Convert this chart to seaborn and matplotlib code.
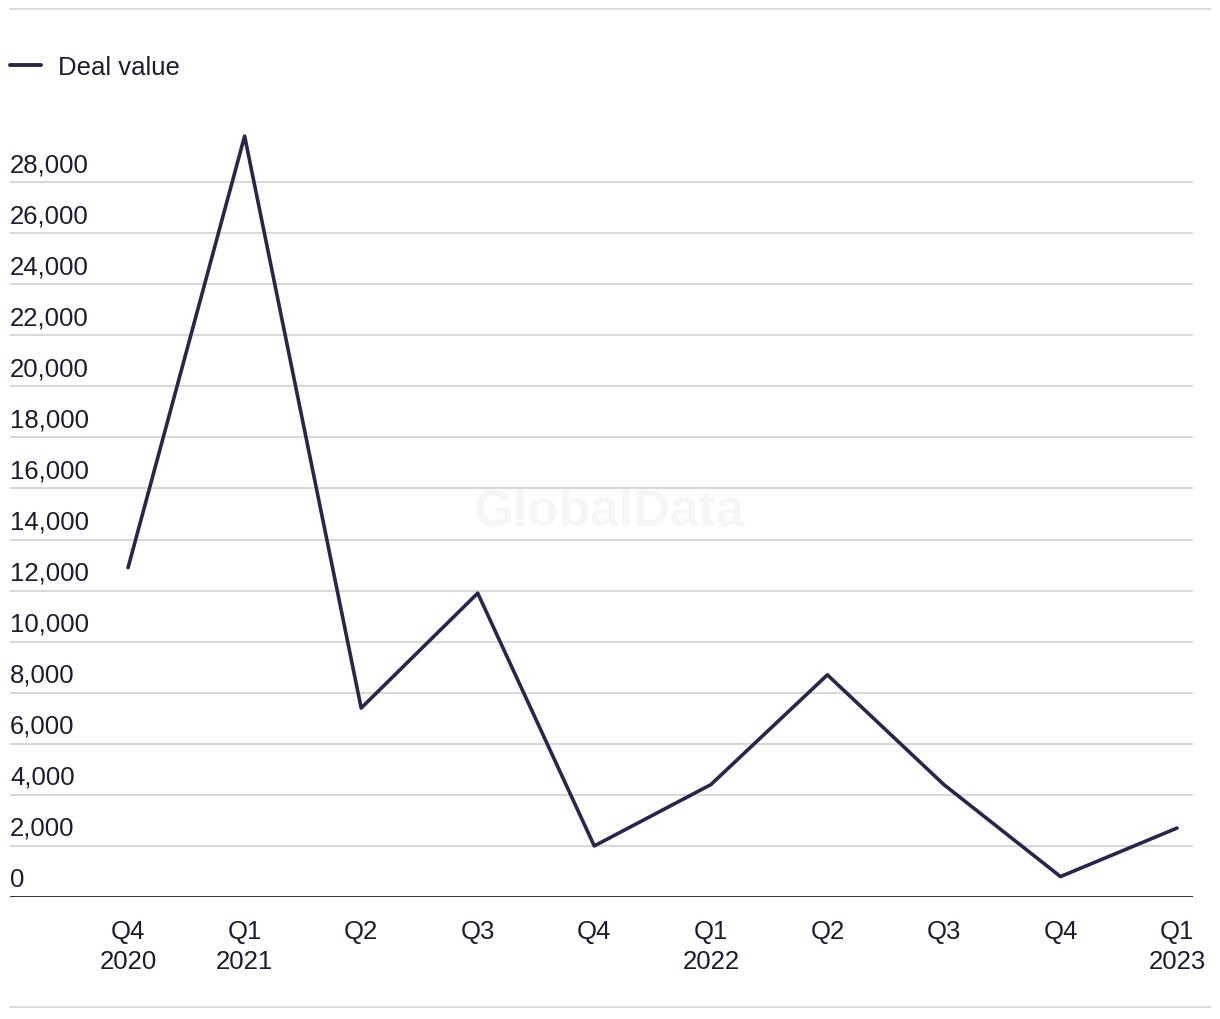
import matplotlib
matplotlib.use("Agg")
import matplotlib.pyplot as plt
import matplotlib.transforms as mtransforms
from matplotlib.lines import Line2D
import seaborn as sns
import pandas as pd

quarters = ["Q4\n2020", "Q1\n2021", "Q2", "Q3", "Q4", "Q1\n2022", "Q2", "Q3", "Q4", "Q1\n2023"]
deal_value = [12900, 29800, 7400, 11900, 2000, 4400, 8700, 4400, 800, 2700]
y_ticks = list(range(0, 28001, 2000))
series_name = "Deal value"

sns.set_theme(style="white")
plt.rcParams['font.family'] = ['Liberation Sans', 'DejaVu Sans']

LINE = "#28274b"
GRID = "#d9d9d9"
TEXT = "#1c1c2e"

df = pd.DataFrame({"pos": range(len(quarters)), "value": deal_value})

W, H = 1220, 1020
fig = plt.figure(figsize=(W / 100, H / 100), dpi=100)
ax = fig.add_axes([10 / W, 1 - 898 / H, (1193 - 10) / W, (898 - 132) / H])

for t in y_ticks[1:]:
    ax.axhline(t, color=GRID, lw=1.5, zorder=1)
ax.axhline(0, color=TEXT, lw=2.0, zorder=2)

sns.lineplot(data=df, x="pos", y="value", ax=ax, color=LINE, lw=2.6, zorder=3, legend=False)

ax.set_xlim(-1.013, 9.137)
ax.set_ylim(0, 30000)
for s in ax.spines.values():
    s.set_visible(False)
ax.set_xticks(range(len(quarters)))
ax.set_xticklabels(quarters, fontsize=18.5, color=TEXT, linespacing=1.3)
ax.tick_params(axis="x", length=0, pad=16)
ax.set_yticks([])
ax.set_xlabel("")
ax.set_ylabel("")

trans = mtransforms.blended_transform_factory(ax.transAxes, ax.transData)
offset = mtransforms.offset_copy(trans, fig=fig, x=0, y=6, units="dots")
for t in y_ticks:
    ax.text(0, t, f"{t:,}", transform=offset, ha="left", va="bottom",
            fontsize=18.5, color=TEXT)

# watermark
ax.text(0.5, 1 - 512 / H, "GlobalData", transform=fig.transFigure, ha="center", va="center",
        fontsize=37, fontweight="bold", color="#f6f6f6", zorder=0)

# legend
handle = Line2D([0], [0], color=LINE, lw=2.8)
leg = fig.legend([handle], [series_name], loc="center left",
                 bbox_to_anchor=(10 / W, 1 - 68 / H), frameon=False,
                 fontsize=18.5, handlelength=1.2, handletextpad=0.65,
                 borderaxespad=0, borderpad=0)
for txt in leg.get_texts():
    txt.set_color(TEXT)

# top and bottom rules
fig.add_artist(Line2D([10 / W, 1210 / W], [1 - 10 / H, 1 - 10 / H], color="#dcdcdc", lw=1.5))
fig.add_artist(Line2D([10 / W, 1210 / W], [1 - 1008 / H, 1 - 1008 / H], color="#dcdcdc", lw=1.5))

fig.savefig("out.png", dpi=100, facecolor="white")
